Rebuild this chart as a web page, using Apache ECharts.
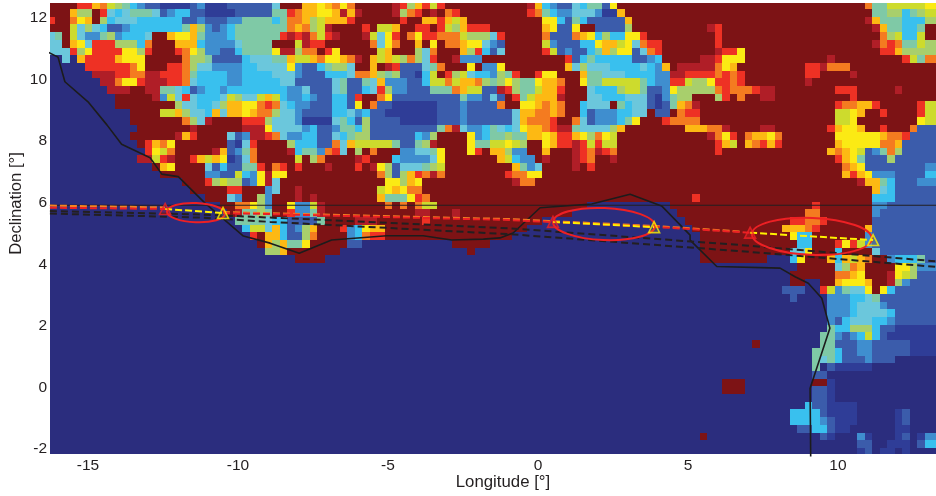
<!DOCTYPE html>
<html><head><meta charset="utf-8"><style>html,body{margin:0;padding:0;background:#fff}#c{width:936px;height:496px}</style>
<script src="https://cdn.jsdelivr.net/npm/echarts@6/dist/echarts.min.js"></script></head><body><div id="c"></div>
<script>
const levelCodes = 'DbBMCTAGLYOoRrK';
const levelColors = ['#2b2d7e','#2f3d97','#3b5cab','#3f8ecf','#39c0ee','#6bc7dc','#7fc9a6','#a8cf6c','#cddb2d','#fbea14','#fdb913','#f47b20','#ee3124','#b01e27','#7d1315'];
const xTicks = [-15,-10,-5,0,5,10];
const yTicks = [-2,0,2,4,6,8,10,12];
const westRows = ['K4R2O1o1L1G1A1C1M1B2b4B1M1b3B6','K3O1G2K1R1T1C1T1A3T1B1M1C2B2b4B5','R1K2o1Y1O1K1G1C1T3C6B2M1B3M2A4','K3L1T1G1T1C1B2M1C7A1O1G1M1B1M1C1A5','T1A1K1L1T1M2A1G1M1C3T1K2O1Y2O1A1M3C1A5','T2K1O1Y1T1R3G3C1o1K3O3C1M4T1A4','T3R1G1Y1R4Y2G1R1K3R1o1Y1G1M2B2C1A4','D2T1D1O1R4O1Y3K5o1G2A1B4C1T3','D5R6o1Y1K3R2o1G1T2M4C2T2','D6r3R2o2r2R3o1A1C4M2C4','D7r2o1Y2R1r3R2o1T1C4M2C4','D8r3K2r2A2T1C1B1M1C2M1C6','D9K5r1M1L1T1R1T1C3T1L1G1T2L1O1','D9K8G1T2C2T1G1O2Y2o1R1','D11K4L2O1G1T2C1O1T1O2Y1O1o2','D11K7o1G1T1r1K4R3G1','D12K7r1K6r3Y1','D11K6r1O1R1K4T1B1M1r2R1','D12K1R1O1o1Y1K7B1b1T1R1K2','D13R1Y1L1o1K5r1O1B1M1A1o1K2','D12r2L1R1r1K2R1O1L1O1Y1b1B1T1o1K2','D14K1O1Y1K4T1B1C1B2A2R1K1','D15K6M2B2L1C1M1Y1r1','D18K3R1G1L1G2B1M1Y1r1','D19K5R2K3M1','D21K3T1M1K2G1M1','D23K2o2Y1G1M1','D24K1r1A2G1A1','D25A4T1','D26C1L2T1','D27R1K1O1','D28K1O1','D29G1','D30'];
const centreRows = ['T1K3O2Y1O1o1Y1o1K5r1R1G1O1R1L1R1K8','A2R1o1O2Y2O1r1O1r1K4r1G1o1R1K1r1K1o1R1K6','C1A1o2O1G1L1O3R1K6R1K2O2R1O1L1O1K5','A2o1O1o1G1L1r1K4R1K1L2O1K2R2K1R1L1G1O1R3K2','A1R1r1R1r1o1L1R1r1K3r1L1T1Y1R1K1o1Y1R2o3L1G3T1R1','K3L1r1R2K6o1T1Y1o1K2O1K1Y1K1o2O1Y2T1M1B1','Y1r2G1o2K1R1Y1K5L1O1K3G1T1o1K3O1G1R1C1B1T1','A2O1L2O1o1Y2O1o1r1K1O1L1O1L1G1o1G1T1R1K2r1M3K3','T2Y1M1B2C1A1G2T1K2O1K1r1R1B3T1A1o1K3Y1K1M2Y1','T3M1B3C3T1o2O1G1A1G1B2b1C1L1K1R1G1L1T1C2M1G1','C1T2B5T1A1B2A1T1O1M3B2C1L2o1L1O2o1G1A1G1','C2M2T1B3T1A1B2C1T1R1G1M2B3A3o1O1L2B2r1','L1C1M2C1M1B2C2B1R1K2o1Y1B9A1M2B1T1B1','o1T1C1M2B3C2B1Y1K1o1B2b6B3M1B4o1','G1T2M1B4C2T1M1C1B2b7B3M1B5','T3M1b4T1A1C1B1G1B4b5B3M1B5','T4M1C1B2M1A2C1G1B9A1o1r1T1M2C1A1T1','o1T1M2C2B2T1C1A1G2B6C1M1G1K4Y1M1C1A2','K2G1C3B2o1T1O1L5A1B2A1G1r1K4Y1A2L2','K2r1C1A2M1o1R1T1K1G1K1o1K3M2T2A1Y1K3Y1R1K1O2','K3L1K1G1o1K4r1R1K3C1M4T1Y1K7O1','o1R1K1R1K3r1K3R1K1r1Y1G1B1T3A1G1L1K8','Y2K12o1G1B1G1O1R1o1r1o1K8','T1K14Y2G1O1Y1K11','T1K2r1K10L1Y1O1Y1o2K11','K3r1K1r1K8O1A3Y1R1o1K10','K2Y1M2L1r1K8o1K1o1K1o1L2K9','K2R1M2A1r1K12r2K3r1K6','C2B4A1K4r3K6R1K10','O1C1B1M1G1O1K3R1M1C1Y1O2K16','O1C1B2G1o1K4M1C1o1R2K16','G1O1A2Y1K5B2D12K5D2','G1O1K7D17K1D4','D3K4D24','D31'];
const eastRows = ['K3r1O1C1M1B2T1C1A2B1Y1K15','K3R1o1A1C1M2T3M1b2O1K14','K5Y2C1B1A1C1B5O1K13','K5O1Y1B2Y1K2B4G1K10r1R1K1','K5o1B3o1O1Y1C1G1C2Y2R1K9R1K1','K5L1M1B3C2Y1O2L1Y1T1o1R2K7R1K1','K5R1L1B1M1B2C1A1O1G1Y2B1T1o1R1K7r1R1','K8R1B1C1A1C5B2M1C1K5r2R1Y1','K8O1T1G1T3C4T1C1M1O1K1r5o1Y1','A1R1K2R1Y2K3O1A2T3C4M2r2R4o1R1','Y1G1A2Y1O2o1K2Y1A2L5A1C1M2R2L1G2Y1R2','R1G1A2L1O2R1K3T1C3G1L2A1B2M1Y1G5o1R1','K1R1A1L1O3r1K3T2C3T3B1b1M1A1G2K3G1R1','K2Y2O1o1O1o1K2C1T3K1A1C1T2B1b1B1A1O1o1r1K4','B1T1O2o2O1o1K2C1B1M3C2T2K1B2K1o1R2K4','B1T1O1o3R1K2o1T1B1M3C1A1Y1K3R1o4K4','C1T1Y1O2o1R1r2A1T4G1O1K8O3o2r1','G1A2O2Y1O1R2O1Y1G1o1Y1L1K12r1o1Y1','Y1L1G1K2Y1O1R2r1R1L1R1L2K13R1O1','G1M2K2O1K3r1R1o1r1R1o1K13R1K1','L1C1M2K1r1K3r1R1o1K2r1K15','K1O1A1M1T1K4r1K1R1K18','R1o2Y2K25','K1r1o2K26','K30','K25R1K4','K11D11K8','K9D14K7','K5D19K6','K3D22K5','K1D25K4','D26K4','D26K4','D26K4','D30','D30','D30','D30','D30','D30','D30','D30','D30','D30','D30','D30','D30','D30','D30','D29K1','D29K1','D30','D30','D30','D30','D30','D26K1D3'];
const farEastRows = ['K18o1A2L5Y2','K19A2G2C1A1G1L2','K18r1O1A3C3G2','K19r1O1A2C2A1K2','K20o1G1L1C2L1K2','K19r1o1R1o1A2L1G2','R1Y1K18R2O1G5','Y2K11r1K9R1L1A1o2','O1K9R2r1o3K12','o1R1K8R2K4r1K11','o1R1K8r1K17','o3R1r2K8R3K5r1K5','K1o1K2r2K10R1K11','K14R1o2O2R1K5R1L2','K14L2Y1O1K2R1K4R1L2','K14L2Y1K8Y1L2','K4r2K7R1O1Y2O1K2R1K3o1B3','R1K1o1O2Y1o1K7Y6O1o2R1B4','L1K1O1o1R1O1R1K7O1Y5o2O1B5','K13O1o1O1Y1L1B1M1A1o1G1B5','K14R1O1Y1A1B3G1B6','K15o1O1Y1B8M2','K15O1R1O1Y1M3B4C2','K17r1O2A1C1B3M3','K19O1T1C1B6','K19C3B6','K11R1K7M2B7','K10o2K7M1B8','K8R2o2R1K6B9','K7O3o1R1K6O1B9','K8Y1C2K7M1B9','K9C2K3R1Y1R1L1M1B9','K8T2Y1K3C1K4T1B8','K5D3C1Y1K3O1C1O1L1O1o1K2M1C3A1B2','D9K5T1G1o1O1K4Y2G1M3','D8K6o2O1Y1K3r1Y1L1G1B3','D8K2D2K2O1Y3O1K2r1G1M1B4','D7B3D2R1L1M1A1T2Y1K1Y1C1B6','D8B1D4M3C2T1A1B8','D13M3C1T3M1B7','D13M3C1T4C1B6','D13M1B1C1T3C2M1B6','D13A1C2G3C1B2b6','D12A2M1B1M1C1L1C1B1b7','D3K1D8A2B3M2B5b4','D11A3C1B2M2B5b4','D11A1T1A1C1B3M1B3D6','D11A1D1B1b5D9','D11B2D15','K2D9K2b1D14','K2D9B2b1D14','D11B2b1D14','D10C1B2b4D11','D8C4B1b4D5b1B1D4','D8C4M1B1b3D5b1B1D4','D9B2C2B1b2D6b2D4','D12B1b1D3M1b1D3b1B1D1b1M2','D17B2D2b3D1B1C2','D17b1B1D1b2D1b1D4'];
const coastLon = [-16.38,-16,-15.77,-15,-14.37,-13.88,-12.93,-12.54,-11.99,-11.1,-9.82,-8.93,-7.96,-6.88,-5.04,-3.83,-2.88,-1.82,-1.27,-0.83,0.07,1.79,3.07,4.12,5.07,5.07,5.96,8.07,8.57,9.01,9.46,9.73,9.07,9.09];
const coastLat = [10.91,10.73,9.93,9.28,8.53,7.9,7.46,6.93,6.85,5.99,4.92,4.69,4.36,4.79,4.93,4.93,4.79,4.82,4.86,5.02,5.84,5.96,6.28,5.9,4.95,4.79,3.93,3.88,3.6,3.39,2.9,1.93,-0.02,-2.24];
const frameLon = [-16.27,13.27];
const frameLat = [5.92,5.92];
const redLon = [-16.27,-12.43,null,-10.5,-0.93,3.83,6.73,7.07];
const redLat = [5.84,5.8,null,5.67,5.44,5.22,5.05,5.03];
const orangeLon = [-16.27,-12.43,null,-10.5,-0.93,3.83,6.73];
const orangeLat = [5.91,5.85,null,5.7,5.47,5.25,5.07];
const yellowLon = [-12.43,-10.5,null,0.5,3.87,null,7.07,11.17];
const yellowLat = [5.8,5.67,null,5.38,5.21,null,5.03,4.79];
const blackALon = [-16.27,-11.27,-8.93,-0.93,6.73,13.27];
const blackALat = [5.73,5.62,5.52,5.17,4.63,4.1];
const blackBLon = [-16.27,-11.27,-8.93,-0.93,6.73,13.27];
const blackBLat = [5.65,5.52,5.38,4.98,4.43,3.92];
const ellipseLon = [-11.4,2.2,9.13];
const ellipseLat = [5.68,5.31,4.91];
const ellipseRLon = [0.97,1.7,2];
const ellipseRLat = [0.31,0.52,0.6];
const triRedLon = [-12.43,0.5,7.07];
const triRedLat = [5.8,5.38,5.03];
const triYelLon = [-10.5,3.87,11.17];
const triYelLat = [5.67,5.21,4.79];

const lonStart = -16.36, latStart = 12.542, cellSize = 0.25;
function expand(s,n){const out=[];s.replace(/([A-Za-z])(\d+)/g,(m,c,k)=>{for(let i=0;i<+k;i++)out.push(c)});while(out.length<n)out.push(out[out.length-1]||'D');return out.slice(0,n)}
const cells=[];
for(let r=0;r<59;r++){
  const row=[...expand(westRows[r]||'D30',30),...expand(centreRows[r]||'D31',31),...expand(eastRows[r]||'D30',30),...expand(farEastRows[r]||'D28',28)];
  let i=0;
  while(i<row.length){let j=i;while(j+1<row.length&&row[j+1]===row[i])j++;
    cells.push([lonStart+i*cellSize,lonStart+(j+1)*cellSize,latStart-r*cellSize,latStart-(r+1)*cellSize,levelCodes.indexOf(row[i])]);
    i=j+1}
}
const zip=(a,b)=>a.map((v,i)=>[v,b[i]]);
const line=(lon,lat,color,width,type,z)=>({type:'line',data:zip(lon,lat),symbol:'none',clip:false,silent:true,z:z,lineStyle:{color:color,width:width,type:type},connectNulls:false});
const chart=echarts.init(document.getElementById('c'),null,{renderer:'canvas'});
const labelFont={fontFamily:'Liberation Sans',fontSize:15.5,color:'#231f20'};
chart.setOption({animation:false,
 grid:{left:50,top:3,width:886,height:451,containLabel:false,outerBoundsMode:'none'},
 xAxis:{type:'value',min:-16.267,max:13.267,splitLine:{show:false},axisLine:{show:false},axisTick:{show:false},
  axisLabel:{...labelFont,customValues:xTicks,margin:4},name:'Longitude [°]',nameLocation:'middle',nameGap:20,nameMoveOverlap:false,
  nameTextStyle:{fontFamily:'Liberation Sans',fontSize:16.8,color:'#231f20',padding:[0,0,0,20]}},
 yAxis:{type:'value',min:-2.156,max:12.487,splitLine:{show:false},axisLine:{show:false},axisTick:{show:false},
  axisLabel:{...labelFont,customValues:yTicks,margin:3},name:'Declination [°]',nameLocation:'middle',nameGap:25,nameMoveOverlap:false,
  nameTextStyle:{fontFamily:'Liberation Sans',fontSize:16.6,color:'#231f20',padding:[0,0,0,50]}},
 series:[
  {type:'custom',data:cells,clip:true,silent:true,z:1,encode:{x:[0,1],y:[2,3]},
   renderItem:(p,api)=>{const a=api.coord([api.value(0),api.value(2)]),b=api.coord([api.value(1),api.value(3)]);
    const x=Math.round(a[0]),y=Math.round(a[1]);
    return {type:'rect',shape:{x:x,y:y,width:Math.round(b[0])-x,height:Math.round(b[1])-y},style:{fill:levelColors[api.value(4)]}}}},
  line(frameLon,frameLat,'#231f20',1.2,'solid',3),
  line(coastLon,coastLat,'#1c1c1c',1.6,'solid',4),
  line(blackALon,blackALat,'#231f20',2,[7,4],4),
  line(blackBLon,blackBLat,'#231f20',2,[7,4],4),
  line(orangeLon,orangeLat,'#f58220',2,[7,3],5),
  line(redLon,redLat,'#ed2024',2,[7,3],5),
  line(yellowLon,yellowLat,'#fff200',2,[7,3],6),
  {type:'custom',silent:true,z:6,clip:false,data:ellipseLon.map((v,i)=>[v,ellipseLat[i],ellipseRLon[i],ellipseRLat[i]]),
   renderItem:(p,api)=>{const c=api.coord([api.value(0),api.value(1)]),s=api.size([api.value(2),api.value(3)]);
    return {type:'ellipse',x:c[0],y:c[1],rotation:-0.04,shape:{cx:0,cy:0,rx:s[0],ry:s[1]},style:{fill:'none',stroke:'#ed2024',lineWidth:2}}}},
  {type:'scatter',data:zip(triRedLon,triRedLat),symbol:'triangle',symbolSize:11,silent:true,z:7,itemStyle:{color:'rgba(237,32,36,0.35)',borderColor:'#ed2024',borderWidth:1.6}},
  {type:'scatter',data:zip(triYelLon,triYelLat),symbol:'triangle',symbolSize:11,silent:true,z:7,itemStyle:{color:'rgba(255,242,0,0.15)',borderColor:'#fff200',borderWidth:1.6}}
 ]});
</script></body></html>
